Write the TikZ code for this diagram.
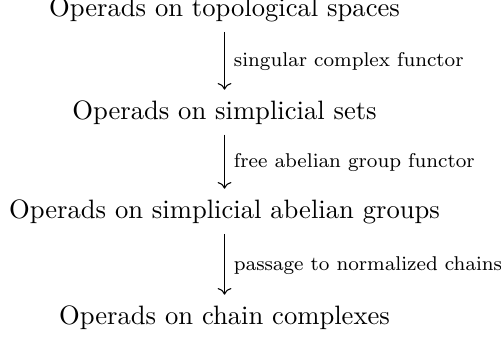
\documentclass[tikz,border=0pt]{standalone}
\usetikzlibrary{arrows.meta}
\font\labfont=cmr8 at 7.5pt
\begin{document}
\begin{tikzpicture}[x=0.3759pt,y=-0.3759pt,
  obj/.style={anchor=base,inner sep=0.333em},
  mor/.style={draw,-{Computer Modern Rightarrow},line width=0.4pt,shorten >=0.8pt},
  lab/.style={right,font=\labfont,inner sep=0.333em}]
\useasboundingbox (0,0) rectangle (501,339);
\node[obj] (top) at (224.5,17) {Operads on topological spaces};
\node[obj] (sset) at (224.5,120) {Operads on simplicial sets};
\node[obj] (sab) at (224.5,219) {Operads on simplicial abelian groups};
\node[obj] (ch) at (224.5,325) {Operads on chain complexes};
\draw[mor] (top) -- node[lab] (l1) {singular complex functor} (sset);
\draw[mor] (sset) -- node[lab] (l2) {free abelian group functor} (sab);
\draw[mor] (sab) -- node[lab] (l3) {passage to normalized chains} (ch);
\end{tikzpicture}
\end{document}
